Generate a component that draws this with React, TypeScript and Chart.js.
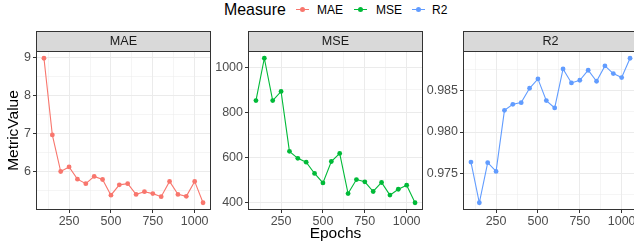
import React, { useEffect, useRef } from 'react';
import { Chart, registerables } from 'chart.js';
Chart.register(...registerables);

const epochs = [100, 150, 200, 250, 300, 350, 400, 450, 500, 550, 600, 650, 700, 750, 800, 850, 900, 950, 1000, 1050];
const maeValues = [8.98, 6.97, 6.01, 6.13, 5.81, 5.69, 5.88, 5.8, 5.39, 5.66, 5.69, 5.41, 5.48, 5.43, 5.35, 5.75, 5.41, 5.36, 5.75, 5.19];
const mseValues = [852, 1040, 852, 893, 627, 596, 579, 529, 487, 582, 618, 440, 502, 492, 449, 489, 433, 459, 477, 399];
const r2Values = [0.9764, 0.97152, 0.97632, 0.97528, 0.9826, 0.98332, 0.98352, 0.98524, 0.98636, 0.98376, 0.98288, 0.98756, 0.98588, 0.9862, 0.9874, 0.98608, 0.98792, 0.987, 0.98652, 0.98884];
const xTicks = [250, 500, 750, 1000];
const maeTicks = [6, 7, 8, 9];
const mseTicks = [400, 600, 800, 1000];
const r2Ticks = [0.975, 0.98, 0.985];
const measures = ['MAE', 'MSE', 'R2'];
const colors = ['#F8766D', '#00BA38', '#619CFF'];
const legendTitle = 'Measure';
const xTitle = 'Epochs';
const yTitle = 'MetricValue';

const FONT = "'Liberation Sans', Arial, Helvetica, sans-serif";

function expand(vals: number[]): [number, number] {
  const mn = Math.min(...vals);
  const mx = Math.max(...vals);
  const r = mx - mn;
  return [mn - 0.05 * r, mx + 0.05 * r];
}

function withMinor(major: number[], lo: number, hi: number) {
  const step = major[1] - major[0];
  const out: { value: number; minor: boolean }[] = [];
  out.push({ value: major[0] - step / 2, minor: true });
  major.forEach((v, i) => {
    out.push({ value: v, minor: false });
    if (i < major.length - 1) out.push({ value: (v + major[i + 1]) / 2, minor: true });
  });
  out.push({ value: major[major.length - 1] + step / 2, minor: true });
  return out.filter((t) => t.value >= lo && t.value <= hi);
}

const stripPlugin = {
  id: 'strip',
  afterDraw(chart: any, _args: any, opts: any) {
    const { ctx, chartArea: a } = chart;
    const w = a.right - a.left;
    ctx.save();
    ctx.fillStyle = '#D9D9D9';
    ctx.fillRect(a.left, 31, w, 20);
    ctx.strokeStyle = '#333333';
    ctx.lineWidth = 1;
    ctx.strokeRect(a.left + 0.5, 31.5, w - 1, 20);
    ctx.strokeRect(a.left + 0.5, a.top + 0.5, w - 1, a.bottom - a.top - 1);
    ctx.fillStyle = '#1A1A1A';
    ctx.font = `12.6px ${FONT}`;
    ctx.textAlign = 'center';
    ctx.textBaseline = 'middle';
    ctx.fillText(opts.label, (a.left + a.right) / 2, 42);
    ctx.restore();
  },
};

type PanelProps = {
  left: number;
  width: number;
  label: string;
  values: number[];
  color: string;
  yTicks: number[];
  decimals: number;
  showXTitle: boolean;
  showYTitle: boolean;
};

function Panel({ left, width, label, values, color, yTicks, decimals, showXTitle, showYTitle }: PanelProps) {
  const ref = useRef<HTMLCanvasElement | null>(null);
  useEffect(() => {
    const [ymin, ymax] = expand(values);
    const [xmin, xmax] = expand(epochs);
    const xAll = withMinor(xTicks, xmin, xmax);
    const yAll = withMinor(yTicks, ymin, ymax);
    const gridCommon = {
      color: '#EBEBEB',
      lineWidth: (ctx: any) => (ctx.tick && ctx.tick.minor ? 0.5 : 1),
      tickColor: (ctx: any) => (ctx.tick && ctx.tick.minor ? 'rgba(0,0,0,0)' : '#333333'),
      tickLength: 3,
      tickWidth: 1,
      drawTicks: true,
    };
    const tickFont = { family: FONT, size: 12.5 };
    const chart = new Chart(ref.current as HTMLCanvasElement, {
      type: 'line',
      data: {
        datasets: [
          {
            label,
            data: epochs.map((e, i) => ({ x: e, y: values[i] })),
            borderColor: color,
            backgroundColor: color,
            borderWidth: 1.1,
            pointRadius: 2.4,
            pointBorderWidth: 0,
            pointHoverRadius: 2.4,
            tension: 0,
          },
        ],
      },
      options: {
        animation: false,
        responsive: false,
        maintainAspectRatio: false,
        events: [],
        layout: { padding: { top: 51, right: width - 211, left: 0, bottom: 0 } },
        plugins: {
          legend: { display: false },
          tooltip: { enabled: false },
          strip: { label },
        } as any,
        scales: {
          x: {
            type: 'linear',
            min: xmin,
            max: xmax,
            bounds: 'data',
            afterBuildTicks: (s: any) => {
              s.ticks = xAll.map((t) => ({ value: t.value, minor: t.minor }));
            },
            afterFit: (s: any) => {
              s.height = 33;
            },
            ticks: {
              autoSkip: false,
              maxRotation: 0,
              padding: 1,
              color: '#4D4D4D',
              font: tickFont,
              callback: (v: any, i: number, ticks: any[]) => (ticks[i].minor ? '' : String(v)),
            },
            grid: gridCommon,
            border: { display: false },
            title: {
              display: showXTitle,
              text: xTitle,
              color: '#000000',
              font: { family: FONT, size: 15.5 },
              padding: { top: 0, bottom: 0 },
            },
          },
          y: {
            type: 'linear',
            min: ymin,
            max: ymax,
            bounds: 'data',
            afterBuildTicks: (s: any) => {
              s.ticks = yAll.map((t) => ({ value: t.value, minor: t.minor }));
            },
            afterFit: (s: any) => {
              s.width = 36;
            },
            ticks: {
              autoSkip: false,
              padding: 2,
              color: '#4D4D4D',
              font: tickFont,
              callback: (v: any, i: number, ticks: any[]) => (ticks[i].minor ? '' : Number(v).toFixed(decimals)),
            },
            grid: gridCommon,
            border: { display: false },
            title: {
              display: showYTitle,
              text: yTitle,
              color: '#000000',
              font: { family: FONT, size: 15.5 },
              padding: { top: 4, bottom: 0 },
            },
          },
        },
      } as any,
      plugins: [stripPlugin as any],
    });
    return () => chart.destroy();
  }, []);
  return (
    <canvas
      ref={ref}
      width={width}
      height={243}
      style={{ position: 'absolute', left, top: 0, width, height: 243 }}
    />
  );
}

function LegendKey({ left, color }: { left: number; color: string }) {
  return (
    <div style={{ position: 'absolute', left, top: 9, width: 13, height: 1, background: color }}>
      <div
        style={{
          position: 'absolute',
          left: 4,
          top: -2,
          width: 5,
          height: 5,
          borderRadius: '50%',
          background: color,
        }}
      />
    </div>
  );
}

export default function App() {
  const textBase: React.CSSProperties = { position: 'absolute', fontFamily: FONT, whiteSpace: 'nowrap' };
  const keyLefts = [296, 354, 412];
  const labelLefts = [317, 376, 432];
  return (
    <div
      style={{
        position: 'fixed',
        left: 0,
        top: 0,
        width: 634,
        height: 243,
        overflow: 'hidden',
        background: '#ffffff',
      }}
    >
      <span style={{ ...textBase, left: 224, top: 1.5, fontSize: 15.9, lineHeight: '15.9px', color: '#000' }}>
        {legendTitle}
      </span>
      {measures.map((m, i) => (
        <React.Fragment key={m}>
          <LegendKey left={keyLefts[i]} color={colors[i]} />
          <span style={{ ...textBase, left: labelLefts[i], top: 3.8, fontSize: 12, lineHeight: '12px', color: '#000' }}>
            {m}
          </span>
        </React.Fragment>
      ))}
      <Panel left={0} width={215} label={measures[0]} values={maeValues} color={colors[0]} yTicks={maeTicks} decimals={0} showXTitle={false} showYTitle={true} />
      <Panel left={212} width={215} label={measures[1]} values={mseValues} color={colors[1]} yTicks={mseTicks} decimals={0} showXTitle={true} showYTitle={false} />
      <Panel left={427} width={215} label={measures[2]} values={r2Values} color={colors[2]} yTicks={r2Ticks} decimals={3} showXTitle={false} showYTitle={false} />
    </div>
  );
}
